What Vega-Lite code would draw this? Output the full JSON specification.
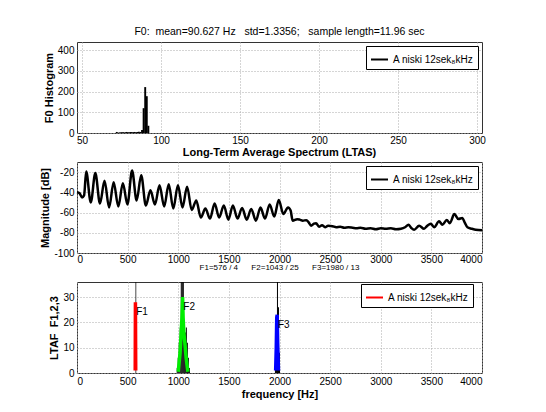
{
  "$schema": "https://vega.github.io/schema/vega-lite/v6.json",
  "background": "white",
  "padding": {"left": 39, "top": 26, "right": 5, "bottom": 5},
  "bounds": "flush",
  "spacing": 29,
  "config": {
    "font": "Liberation Sans",
    "view": {"stroke": "#333", "strokeWidth": 1},
    "axis": {
      "labelFont": "Liberation Sans", "labelFontSize": 10, "labelColor": "black",
      "ticks": false, "domain": false, "grid": true, "gridColor": "#aaa", "gridDash": [1, 2],
      "titleFont": "Liberation Sans", "titleFontSize": 11, "titleFontWeight": "bold", "titleColor": "black",
      "labelPadding": 3, "titlePadding": 3
    },
    "title": {"font": "Liberation Sans", "color": "black", "anchor": "middle"},
    "legend": {
      "orient": "top-right", "offset": 4, "padding": 4, "strokeColor": "black", "fillColor": "white",
      "cornerRadius": 0, "labelFont": "Liberation Sans", "labelFontSize": 10, "labelColor": "black",
      "symbolType": "stroke", "symbolStrokeWidth": 2, "symbolSize": 289, "title": null
    }
  },
  "resolve": {"scale": {"color": "independent"}, "legend": {"color": "independent"}},
  "vconcat": [
    {
      "width": 405, "height": 91,
      "title": {"text": "F0:\u00a0 mean=90.627 Hz\u00a0\u00a0 std=1.3356;\u00a0\u00a0 sample length=11.96 sec", "fontSize": 10.5, "fontWeight": "normal", "offset": 5},
      "data": {"values": [
        {"f0": 72, "count": 5}, {"f0": 73, "count": 2}, {"f0": 74, "count": 3}, {"f0": 75, "count": 4},
        {"f0": 76, "count": 4}, {"f0": 77, "count": 3}, {"f0": 78, "count": 5}, {"f0": 79, "count": 4},
        {"f0": 80, "count": 4}, {"f0": 81, "count": 5}, {"f0": 82, "count": 4}, {"f0": 83, "count": 5},
        {"f0": 84, "count": 4}, {"f0": 85, "count": 5}, {"f0": 86, "count": 6}, {"f0": 87, "count": 5},
        {"f0": 88, "count": 15}, {"f0": 89, "count": 120}, {"f0": 90, "count": 222}, {"f0": 91, "count": 178},
        {"f0": 92, "count": 35}
      ]},
      "mark": {"type": "bar", "width": 1.9, "color": "black"},
      "encoding": {
        "x": {"field": "f0", "type": "quantitative", "scale": {"domain": [50, 300], "nice": false, "zero": false},
              "axis": {"values": [50, 100, 150, 200, 250, 300], "title": null, "labelPadding": 2, "labelExpr": "datum.value + ''"}},
        "y": {"field": "count", "type": "quantitative", "scale": {"domain": [0, 440], "nice": false},
              "axis": {"values": [0, 100, 200, 300, 400], "title": "F0 Histogram", "labelExpr": "datum.value + ''"}},
        "color": {"datum": "A niski 12sek₈kHz", "type": "nominal", "scale": {"range": ["black"]},
                  "legend": {"symbolStrokeColor": "black"}}
      }
    },
    {
      "width": 405, "height": 91,
      "title": {"text": "Long-Term Average Spectrum (LTAS)", "fontSize": 11, "fontWeight": "bold", "offset": 4},
      "data": {"values": [
        {"hz": 0, "db": -40}, {"hz": 25, "db": -41}, {"hz": 50, "db": -45}, {"hz": 70, "db": -43},
        {"hz": 91, "db": -19.5}, {"hz": 136, "db": -50}, {"hz": 181, "db": -21}, {"hz": 227, "db": -51},
        {"hz": 272, "db": -28.5}, {"hz": 317, "db": -55}, {"hz": 362, "db": -30}, {"hz": 408, "db": -54},
        {"hz": 453, "db": -31}, {"hz": 498, "db": -52}, {"hz": 544, "db": -18.5}, {"hz": 589, "db": -48},
        {"hz": 634, "db": -23}, {"hz": 680, "db": -53}, {"hz": 725, "db": -38}, {"hz": 770, "db": -52},
        {"hz": 815, "db": -33}, {"hz": 861, "db": -54}, {"hz": 906, "db": -32}, {"hz": 951, "db": -56},
        {"hz": 997, "db": -33}, {"hz": 1042, "db": -55}, {"hz": 1087, "db": -34.5}, {"hz": 1133, "db": -57.5},
        {"hz": 1178, "db": -48}, {"hz": 1223, "db": -65}, {"hz": 1268, "db": -56}, {"hz": 1314, "db": -66},
        {"hz": 1359, "db": -51}, {"hz": 1404, "db": -65}, {"hz": 1450, "db": -53}, {"hz": 1495, "db": -67},
        {"hz": 1540, "db": -53}, {"hz": 1585, "db": -66}, {"hz": 1631, "db": -55.5}, {"hz": 1676, "db": -67},
        {"hz": 1721, "db": -56.5}, {"hz": 1767, "db": -68}, {"hz": 1812, "db": -55}, {"hz": 1857, "db": -66},
        {"hz": 1903, "db": -52}, {"hz": 1948, "db": -64}, {"hz": 1993, "db": -47.5}, {"hz": 2038, "db": -61.5},
        {"hz": 2084, "db": -55}, {"hz": 2110, "db": -58}, {"hz": 2130, "db": -68}, {"hz": 2175, "db": -66.5},
        {"hz": 2200, "db": -67}, {"hz": 2230, "db": -68}, {"hz": 2265, "db": -67.5}, {"hz": 2290, "db": -70},
        {"hz": 2312, "db": -73}, {"hz": 2340, "db": -71}, {"hz": 2361, "db": -70.5}, {"hz": 2390, "db": -74},
        {"hz": 2420, "db": -72.5}, {"hz": 2450, "db": -74.5}, {"hz": 2480, "db": -73}, {"hz": 2524, "db": -73.5},
        {"hz": 2560, "db": -74.5}, {"hz": 2600, "db": -74}, {"hz": 2640, "db": -75}, {"hz": 2680, "db": -74.5},
        {"hz": 2722, "db": -75}, {"hz": 2760, "db": -75.5}, {"hz": 2800, "db": -75}, {"hz": 2850, "db": -76},
        {"hz": 2900, "db": -75.5}, {"hz": 2952, "db": -76.5}, {"hz": 3000, "db": -75.5}, {"hz": 3050, "db": -76},
        {"hz": 3100, "db": -75.5}, {"hz": 3150, "db": -76.5}, {"hz": 3200, "db": -76}, {"hz": 3240, "db": -74.5},
        {"hz": 3274, "db": -72}, {"hz": 3300, "db": -75}, {"hz": 3330, "db": -77}, {"hz": 3379, "db": -73},
        {"hz": 3428, "db": -76}, {"hz": 3460, "db": -73}, {"hz": 3494, "db": -71}, {"hz": 3527, "db": -74.5},
        {"hz": 3576, "db": -68.7}, {"hz": 3609, "db": -72}, {"hz": 3652, "db": -67.4}, {"hz": 3682, "db": -70.6},
        {"hz": 3727, "db": -61.5}, {"hz": 3767, "db": -66.4}, {"hz": 3806, "db": -65.4}, {"hz": 3830, "db": -70},
        {"hz": 3856, "db": -74.6}, {"hz": 3900, "db": -76}, {"hz": 3938, "db": -77}, {"hz": 4000, "db": -77.5}
      ]},
      "mark": {"type": "line", "strokeWidth": 2.5, "interpolate": "monotone"},
      "encoding": {
        "x": {"field": "hz", "type": "quantitative", "scale": {"domain": [0, 4000], "nice": false},
              "axis": {"values": [0, 500, 1000, 1500, 2000, 2500, 3000, 3500, 4000], "title": null, "labelPadding": 1, "labelExpr": "datum.value + ''"}},
        "y": {"field": "db", "type": "quantitative", "scale": {"domain": [-100, -10], "nice": false, "zero": false},
              "axis": {"values": [-100, -80, -60, -40, -20], "title": "Magnitude [dB]", "labelExpr": "datum.value + ''"}},
        "color": {"datum": "A niski 12sek₈kHz", "type": "nominal", "scale": {"range": ["black"]}}
      }
    },
    {
      "width": 405, "height": 91,
      "title": {"text": "F1=576 / 4\u00a0\u00a0\u00a0\u00a0\u00a0 F2=1043 / 25\u00a0\u00a0\u00a0\u00a0\u00a0 F3=1980 / 13", "fontSize": 8, "fontWeight": "normal", "offset": 10},
      "encoding": {
        "y": {"field": "v", "type": "quantitative", "scale": {"domain": [0, 36], "nice": false},
              "axis": {"values": [0, 10, 20, 30], "title": "LTAF\u00a0 F1,2,3", "labelExpr": "datum.value + ''"}}
      },
      "layer": [
        {
          "data": {"values": [
            {"lo": 573, "hi": 580, "v": 60},
            {"lo": 980, "hi": 990, "v": 2}, {"lo": 990, "hi": 1000, "v": 6}, {"lo": 1000, "hi": 1010, "v": 12},
            {"lo": 1010, "hi": 1020, "v": 18}, {"lo": 1020, "hi": 1030, "v": 60}, {"lo": 1030, "hi": 1040, "v": 60},
            {"lo": 1040, "hi": 1050, "v": 40}, {"lo": 1050, "hi": 1060, "v": 18}, {"lo": 1060, "hi": 1070, "v": 16},
            {"lo": 1070, "hi": 1080, "v": 18}, {"lo": 1080, "hi": 1090, "v": 12}, {"lo": 1090, "hi": 1100, "v": 6},
            {"lo": 1100, "hi": 1110, "v": 2},
            {"lo": 1950, "hi": 1960, "v": 4}, {"lo": 1960, "hi": 1970, "v": 18}, {"lo": 1970, "hi": 1980, "v": 60},
            {"lo": 1980, "hi": 1990, "v": 26}, {"lo": 1990, "hi": 2000, "v": 8}
          ]},
          "mark": {"type": "bar", "color": "black", "clip": true, "binSpacing": 0},
          "encoding": {
            "x": {"field": "lo", "type": "quantitative", "bin": "binned", "scale": {"domain": [0, 4000], "nice": false},
                  "axis": {"values": [0, 500, 1000, 1500, 2000, 2500, 3000, 3500, 4000], "title": "frequency [Hz]", "titlePadding": 2, "labelExpr": "datum.value + ''"}},
            "x2": {"field": "hi"}
          }
        },
        {
          "data": {"values": [
            {"formant": "F1", "freq": 575, "v": 1}, {"formant": "F1", "freq": 577, "v": 28}, {"formant": "F1", "freq": 580, "v": 1},
            {"formant": "F2", "freq": 1000, "v": 0.5}, {"formant": "F2", "freq": 1018, "v": 8}, {"formant": "F2", "freq": 1030, "v": 17},
            {"formant": "F2", "freq": 1037, "v": 22}, {"formant": "F2", "freq": 1043, "v": 30}, {"formant": "F2", "freq": 1048, "v": 22},
            {"formant": "F2", "freq": 1055, "v": 16}, {"formant": "F2", "freq": 1065, "v": 12}, {"formant": "F2", "freq": 1078, "v": 6},
            {"formant": "F2", "freq": 1095, "v": 0.5},
            {"formant": "F3", "freq": 1962, "v": 1}, {"formant": "F3", "freq": 1968, "v": 10}, {"formant": "F3", "freq": 1973, "v": 22},
            {"formant": "F3", "freq": 1977, "v": 23}, {"formant": "F3", "freq": 1982, "v": 12}, {"formant": "F3", "freq": 1990, "v": 1}
          ]},
          "mark": {"type": "line", "strokeWidth": 3.5},
          "encoding": {
            "x": {"field": "freq", "type": "quantitative"},
            "color": {"field": "formant", "type": "nominal",
                      "scale": {"domain": ["F1", "F2", "F3"], "range": ["#ff0000", "#00ee00", "#0000ff"]},
                      "legend": {"values": ["F1"], "labelExpr": "'A niski 12sek₈kHz'", "orient": "none", "legendX": 284, "legendY": 2}}
          }
        },
        {
          "data": {"values": [
            {"label": "F1", "freq": 585, "v": 24},
            {"label": "F2", "freq": 1050, "v": 26},
            {"label": "F3", "freq": 1985, "v": 19}
          ]},
          "mark": {"type": "text", "align": "left", "baseline": "middle", "fontSize": 10, "font": "Liberation Sans", "color": "black"},
          "encoding": {
            "x": {"field": "freq", "type": "quantitative"},
            "text": {"field": "label"}
          }
        }
      ]
    }
  ]
}
